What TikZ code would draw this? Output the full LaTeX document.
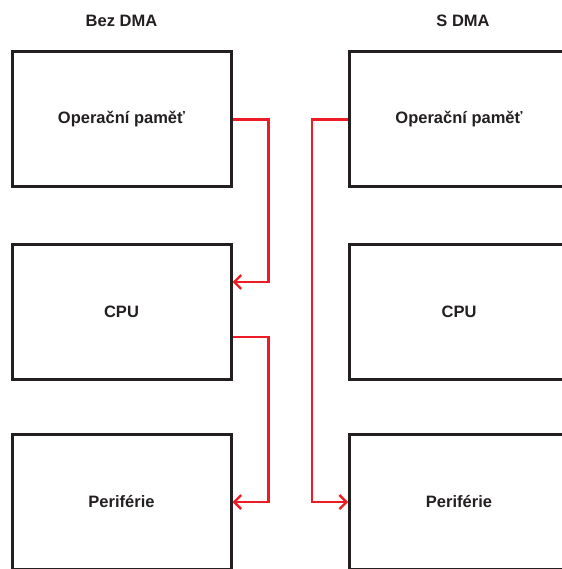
\documentclass[tikz,border=0pt]{standalone}
\usepackage{fontspec}
\setmainfont{Liberation Sans}
\usetikzlibrary{arrows.meta}
\definecolor{ink}{HTML}{231F20}
\definecolor{redline}{HTML}{ED1C24}
\begin{document}
\begin{tikzpicture}[x=1pt,y=-1pt,
  box/.style={draw=ink, line width=3pt, minimum width=219pt, minimum height=135pt, inner sep=0pt, text=ink,
    font=\fontsize{16.5}{19}\selectfont\bfseries},
  title/.style={text=ink, font=\fontsize{16.5}{19}\selectfont\bfseries, inner sep=0pt},
  conn/.style={draw=redline, line width=2.3pt, -{Straight Barb[length=7pt,width=14pt,line width=2.3pt]}}]
\useasboundingbox (0,0) rectangle (561,569);
\node[title] (t1) at (121.5,21) {Bez DMA};
\node[title] (t2) at (463,21) {S DMA};
\node[box] (ltop) at (121.5,119.5) {Operační paměť};
\node[box] (lcpu) at (121.5,311.5) {CPU};
\node[box] (lper) at (121.5,502) {Periférie};
\node[box] (rtop) at (459,119.5) {Operační paměť};
\node[box] (rcpu) at (459,311.5) {CPU};
\node[box] (rper) at (459,502) {Periférie};
\draw[conn] (ltop.east) -- ++(36,0) |- ([yshift=29.5pt]lcpu.east);
\draw[conn] ([yshift=-25.5pt]lcpu.east) -- ++(36,0) |- (lper.east);
\draw[conn] (rtop.west) -- ++(-36,0) |- (rper.west);
\end{tikzpicture}
\end{document}
